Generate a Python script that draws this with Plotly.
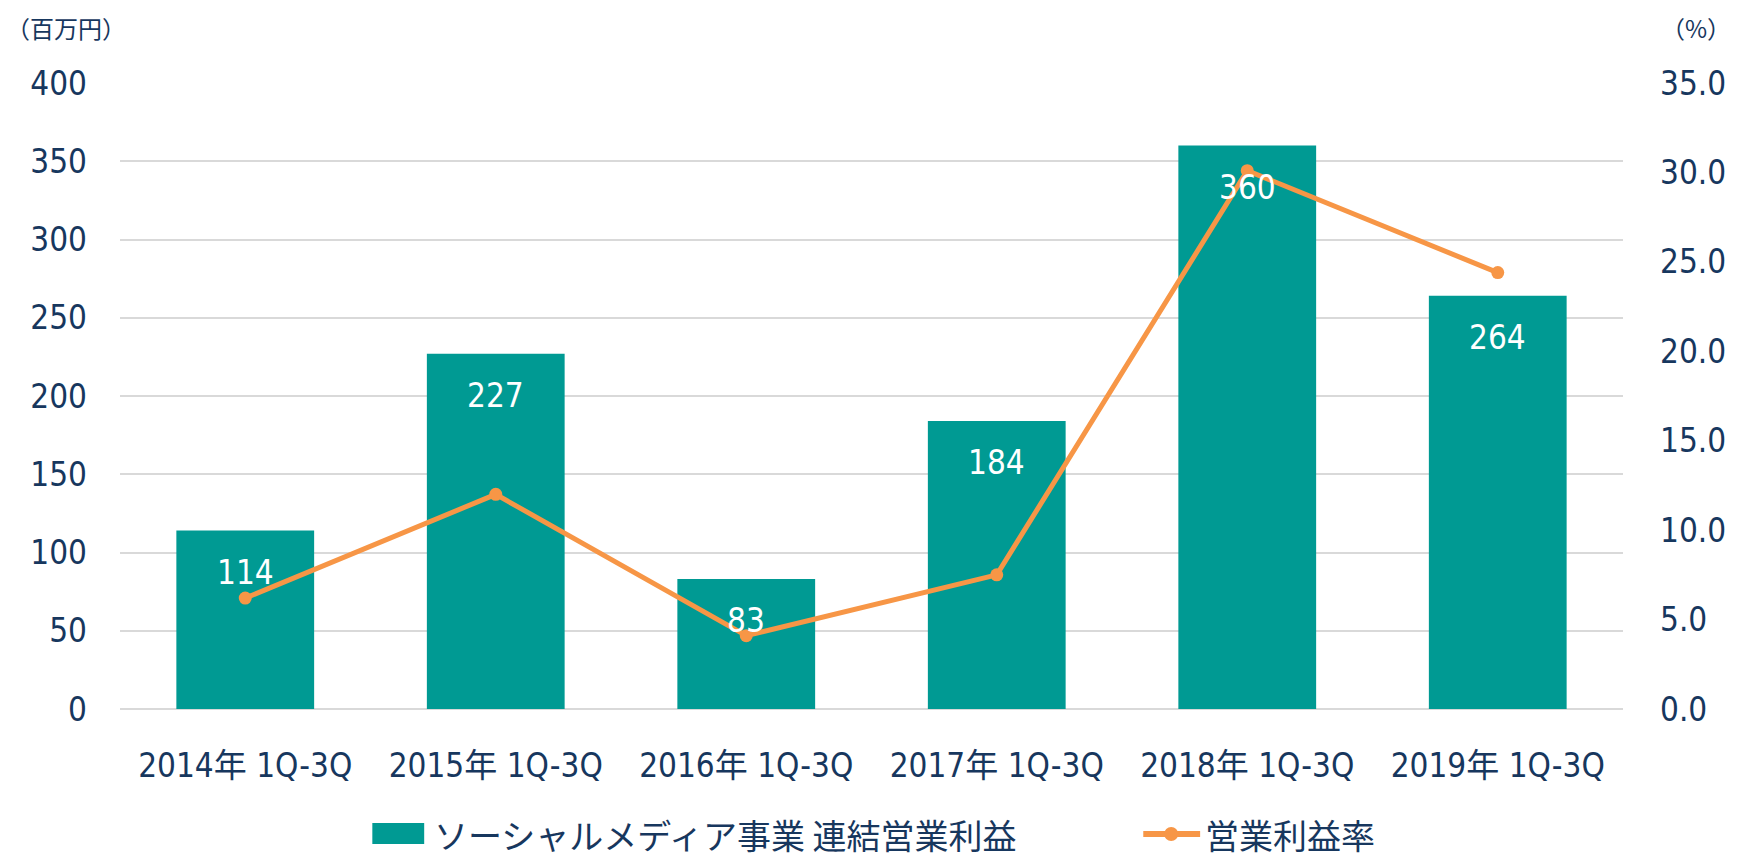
import plotly.graph_objects as go

categories = ["2014年 1Q-3Q", "2015年 1Q-3Q", "2016年 1Q-3Q", "2017年 1Q-3Q", "2018年 1Q-3Q", "2019年 1Q-3Q"]
profit = [114, 227, 83, 184, 360, 264]
margin = [6.2, 12.0, 4.1, 7.5, 30.1, 24.4]
bar_name = "ソーシャルメディア事業 連結営業利益"
line_name = "営業利益率"
left_ticks = [0, 50, 100, 150, 200, 250, 300, 350, 400]
right_ticks = [0, 5, 10, 15, 20, 25, 30, 35]

TEAL = "#009A93"
ORANGE = "#F79646"
NAVY = "#17375E"
GRID = "#D9D9D9"
NUMFONT = "Liberation Sans Narrow, DejaVu Sans Condensed, Noto Sans CJK JP"
CJK = "Noto Sans CJK JP, DejaVu Sans Condensed"

fig = go.Figure()
fig.add_trace(go.Bar(x=categories, y=profit, name=bar_name, marker=dict(color=TEAL, line=dict(width=0)),
                     showlegend=False, yaxis="y"))
fig.add_trace(go.Scatter(x=categories, y=margin, name=line_name, mode="lines+markers",
                         line=dict(color=ORANGE, width=5), marker=dict(color=ORANGE, size=13),
                         showlegend=False, yaxis="y2"))

for c, v in zip(categories, profit):
    fig.add_annotation(x=c, y=v, xref="x", yref="y", text=str(v), showarrow=False,
                       yanchor="top", yshift=-20, font=dict(family=NUMFONT, size=33, color="white"))

L, W, B, H = 120, 1507, 709, 626
px = lambda v: (v - L) / W
py = lambda v: (B - v) / H

# axis unit titles
fig.add_annotation(xref="paper", yref="paper", x=px(4), y=py(28), text="（百万円）", showarrow=False,
                   xanchor="left", yanchor="middle", font=dict(family=CJK, size=24, color=NAVY))
fig.add_annotation(xref="paper", yref="paper", x=px(1737), y=py(28), text="（%）", showarrow=False,
                   xanchor="right", yanchor="middle", font=dict(family=CJK, size=24, color=NAVY))

# custom legend
LY = 834
shapes = [
    dict(type="rect", xref="paper", yref="paper", x0=px(373), x1=px(425), y0=py(LY + 10), y1=py(LY - 11),
         fillcolor=TEAL, line=dict(width=0)),
    dict(type="line", xref="paper", yref="paper", x0=px(1146), x1=px(1203), y0=py(LY), y1=py(LY),
         line=dict(color=ORANGE, width=6)),
    dict(type="circle", xref="paper", yref="paper", xsizemode="pixel", ysizemode="pixel",
         xanchor=px(1174), yanchor=py(LY), x0=-7, x1=7, y0=-7, y1=7,
         fillcolor=ORANGE, line=dict(width=0)),
]
fig.add_annotation(xref="paper", yref="paper", x=px(433), y=py(LY), text=bar_name, showarrow=False,
                   xanchor="left", yanchor="middle", font=dict(family=CJK, size=34, color=NAVY))
fig.add_annotation(xref="paper", yref="paper", x=px(1206), y=py(LY), text=line_name, showarrow=False,
                   xanchor="left", yanchor="middle", font=dict(family=CJK, size=34, color=NAVY))

fig.update_layout(
    width=1738, height=859,
    margin=dict(l=L, r=1738 - L - W, t=83, b=859 - B),
    paper_bgcolor="white", plot_bgcolor="white",
    bargap=0.45,
    showlegend=False,
    shapes=shapes,
    xaxis=dict(type="category", showgrid=False, showline=False, ticks="",
               tickfont=dict(family=NUMFONT, size=33, color=NAVY), ticklabelstandoff=34),
    yaxis=dict(range=[0, 400], tickvals=left_ticks, showgrid=True, gridcolor=GRID, gridwidth=2,
               zeroline=True, zerolinecolor=GRID, zerolinewidth=2, showline=False, ticks="",
               tickfont=dict(family=NUMFONT, size=33, color=NAVY), ticklabelstandoff=32),
    yaxis2=dict(range=[0, 35], tickvals=right_ticks, tickformat=".1f", overlaying="y", side="right",
                showgrid=False, zeroline=False, showline=False, ticks="",
                tickfont=dict(family=NUMFONT, size=33, color=NAVY), ticklabelstandoff=36),
)

fig.write_html("out.html", config={"displayModeBar": False},
               post_script="document.body.style.margin='0';document.body.style.overflow='hidden';")
